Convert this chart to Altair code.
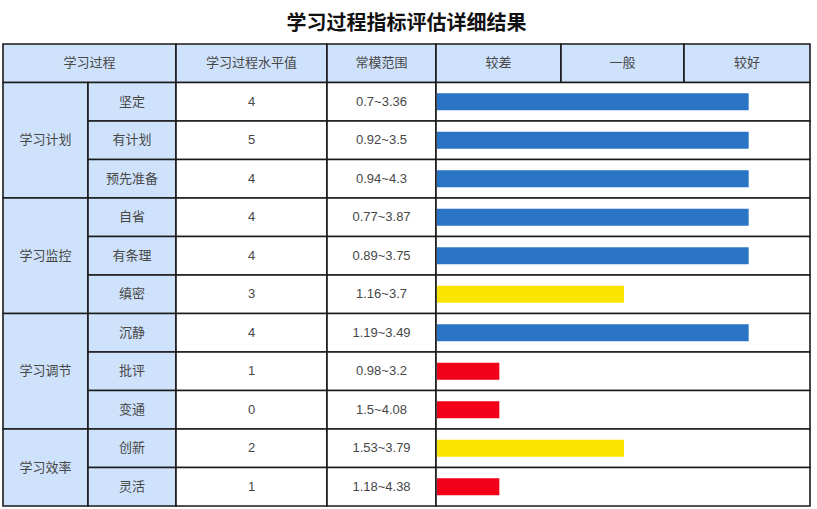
import altair as alt
import pandas as pd

# ---- data ----
groups = ["学习计划", "学习监控", "学习调节", "学习效率"]
group_sizes = [3, 3, 3, 2]
items = ["坚定", "有计划", "预先准备", "自省", "有条理", "缜密", "沉静", "批评", "变通", "创新", "灵活"]
values = [4, 5, 4, 4, 4, 3, 4, 1, 0, 2, 1]
ranges = ["0.7~3.36", "0.92~3.5", "0.94~4.3", "0.77~3.87", "0.89~3.75", "1.16~3.7",
          "1.19~3.49", "0.98~3.2", "1.5~4.08", "1.53~3.79", "1.18~4.38"]
levels = ["较好", "较好", "较好", "较好", "较好", "一般", "较好", "较差", "较差", "一般", "较差"]
level_names = ["较差", "一般", "较好"]
level_scores = [1, 3, 5]
header_labels = ["学习过程", "学习过程水平值", "常模范围"]

# ---- layout / style ----
W, H = 807, 462
col_edges = [0, 85, 173, 324, 433, 558, 681, 807]
HEAD = "#cfe2fb"
WHITE = "#ffffff"
level_colors = ["#f2001a", "#fbe400", "#2a74c6"]
FONT = "Liberation Sans, Noto Sans CJK SC, sans-serif"
n = len(items)

cells = []
# header row
cells.append(dict(x0=col_edges[0], x1=col_edges[2], y0=-1, y1=0, fill=HEAD, label=header_labels[0]))
cells.append(dict(x0=col_edges[2], x1=col_edges[3], y0=-1, y1=0, fill=HEAD, label=header_labels[1]))
cells.append(dict(x0=col_edges[3], x1=col_edges[4], y0=-1, y1=0, fill=HEAD, label=header_labels[2]))
for k, nm in enumerate(level_names):
    cells.append(dict(x0=col_edges[4 + k], x1=col_edges[5 + k], y0=-1, y1=0, fill=HEAD, label=nm))
# group cells
start = 0
for g, s in zip(groups, group_sizes):
    cells.append(dict(x0=col_edges[0], x1=col_edges[1], y0=start, y1=start + s, fill=HEAD, label=g))
    start += s
# row cells
for i in range(n):
    cells.append(dict(x0=col_edges[1], x1=col_edges[2], y0=i, y1=i + 1, fill=HEAD, label=items[i]))
    cells.append(dict(x0=col_edges[2], x1=col_edges[3], y0=i, y1=i + 1, fill=WHITE, label=str(values[i])))
    cells.append(dict(x0=col_edges[3], x1=col_edges[4], y0=i, y1=i + 1, fill=WHITE, label=ranges[i]))
    cells.append(dict(x0=col_edges[4], x1=col_edges[7], y0=i, y1=i + 1, fill=WHITE, label=""))
cdf = pd.DataFrame(cells)
cdf["xm"] = (cdf.x0 + cdf.x1) / 2
cdf["ym"] = (cdf.y0 + cdf.y1) / 2

score_of = dict(zip(level_names, level_scores))
bdf = pd.DataFrame({"row": list(range(n)), "level": levels})
bdf["score"] = bdf.level.map(score_of)
bdf["start"] = 0
bdf["yb0"] = bdf.row + 0.5 - 0.22
bdf["yb1"] = bdf.row + 0.5 + 0.22

xs = alt.Scale(domain=[0, W], range=[0, W])
ys = alt.Scale(domain=[-1, n], reverse=True)

rects = alt.Chart(cdf).mark_rect(stroke="#1a1a1a", strokeWidth=1.6).encode(
    x=alt.X("x0:Q", scale=xs, axis=None),
    x2="x1:Q",
    y=alt.Y("y0:Q", scale=ys, axis=None),
    y2="y1:Q",
    fill=alt.Fill("fill:N", scale=None),
)

bars = alt.Chart(bdf).mark_rect().encode(
    x=alt.X("start:Q", scale=alt.Scale(domain=[0, 6], range=[col_edges[4] + 1, W + 1]), axis=None),
    x2="score:Q",
    y=alt.Y("yb0:Q", scale=ys, axis=None),
    y2="yb1:Q",
    fill=alt.Fill("level:N", scale=alt.Scale(domain=level_names, range=level_colors), legend=None),
)

texts = alt.Chart(cdf).mark_text(font=FONT, fontSize=13, color="#474747",
                                 align="center", baseline="middle").encode(
    x=alt.X("xm:Q", scale=xs, axis=None),
    y=alt.Y("ym:Q", scale=ys, axis=None),
    text="label:N",
)

chart = alt.layer(rects, bars, texts).resolve_scale(x="independent").properties(
    width=W, height=H,
    title=alt.Title("学习过程指标评估详细结果", font=FONT, fontSize=20, fontWeight="bold",
                    color="#111111", anchor="middle", offset=9),
    autosize=alt.AutoSizeParams(type="none"),
    padding={"left": 3, "top": 44, "right": 7, "bottom": 3},
).configure_view(stroke=None)

chart.save("out.html", embed_options={"renderer": "svg", "actions": False})
